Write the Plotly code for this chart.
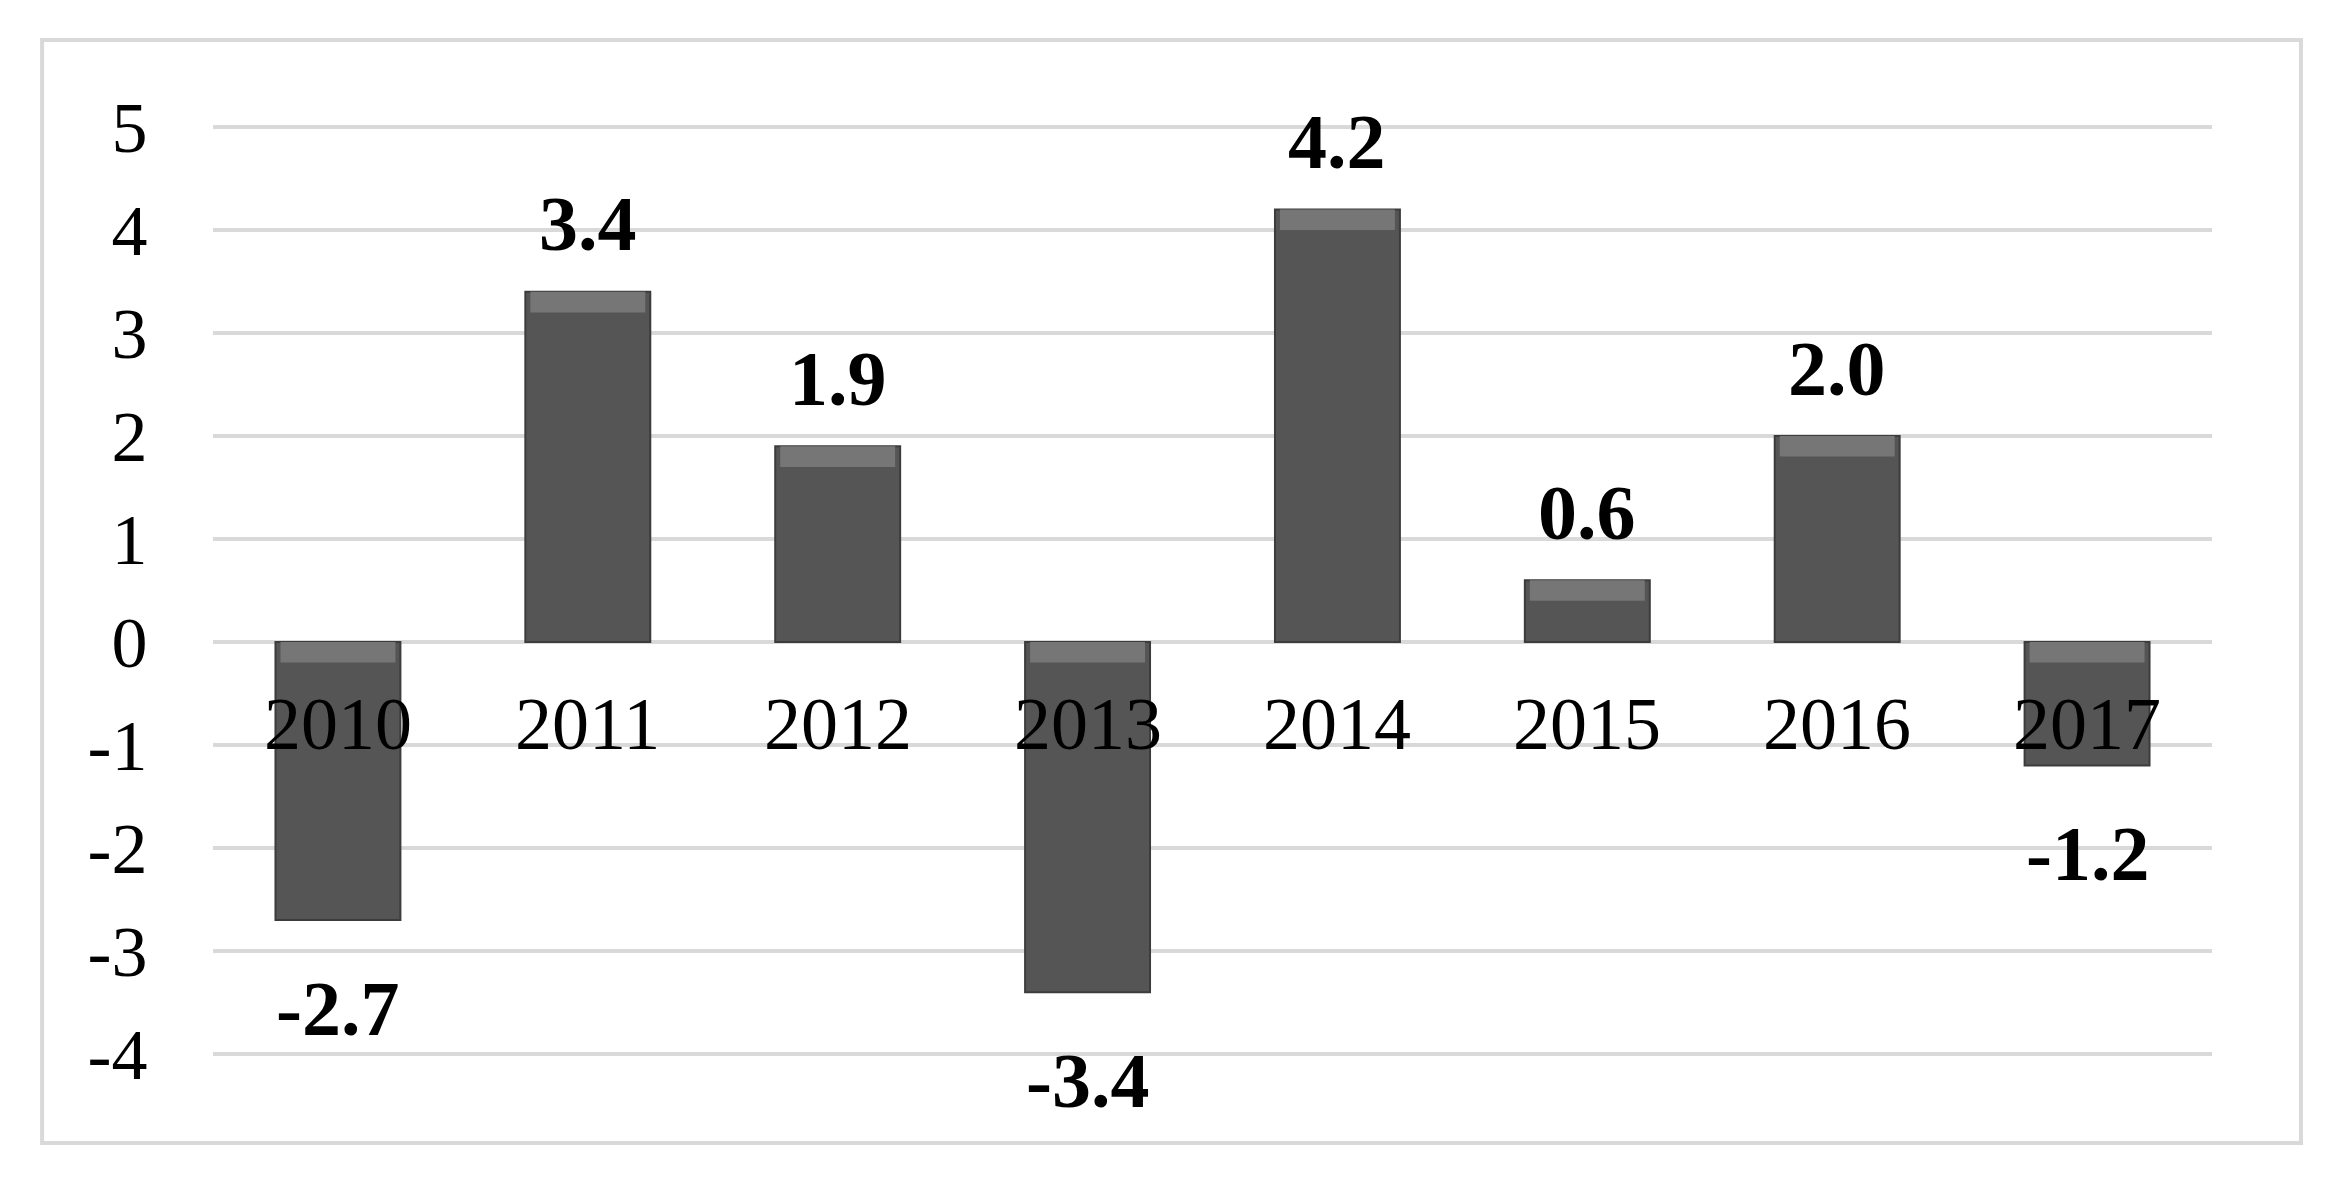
import plotly.graph_objects as go

years = ["2010", "2011", "2012", "2013", "2014", "2015", "2016", "2017"]
values = [-2.7, 3.4, 1.9, -3.4, 4.2, 0.6, 2.0, -1.2]
y_ticks = [5, 4, 3, 2, 1, 0, -1, -2, -3, -4]

Y_MIN, Y_MAX = -4.02, 5.02
FONT = "Liberation Serif"
BEVEL = 0.2  # depth of the light bevel strip along each bar's upper edge (axis units)

xs = list(range(len(years)))
fig = go.Figure()
fig.add_trace(go.Bar(
    x=xs, y=values, width=0.5,
    marker=dict(color="#555555", line=dict(color="#3c3c3c", width=2)),
    hoverinfo="skip",
))
# light bevel strip on the upper edge of every bar
bevel_h = [min(BEVEL, abs(v) / 3) for v in values]
bevel_base = [(v if v >= 0 else 0) - h for v, h in zip(values, bevel_h)]
fig.add_trace(go.Bar(
    x=xs, y=bevel_h, base=bevel_base, width=0.46,
    marker=dict(color="#767676", line=dict(width=0)),
    hoverinfo="skip",
))

# category labels sit just below the zero line
for i, yr in enumerate(years):
    fig.add_annotation(x=i, y=0, text=yr, showarrow=False,
                       yanchor="middle", yshift=-82,
                       font=dict(family=FONT, size=74, color="black"))

for i, v in enumerate(values):
    shift = 68 if v >= 0 else -88
    fig.add_annotation(x=i, y=v, text=f"<b>{v:.1f}</b>", showarrow=False,
                       yanchor="middle", yshift=shift,
                       font=dict(family=FONT, size=78, color="black"))

# outer chart border
fig.add_shape(type="rect", xref="paper", yref="paper",
              x0=-0.0855, x1=1.0445, y0=-0.0934, y1=1.0913,
              line=dict(color="#d9d9d9", width=4), fillcolor="rgba(0,0,0,0)", layer="below")

fig.update_layout(
    width=2330, height=1192,
    margin=dict(l=205, r=126, t=117, b=144),
    paper_bgcolor="white", plot_bgcolor="white",
    showlegend=False, barmode="overlay",
    font=dict(family=FONT, size=72, color="black"),
)
fig.update_xaxes(
    tickvals=xs, ticktext=years,
    range=[-0.5, len(years) - 0.5],
    showgrid=False, showline=False, zeroline=False, showticklabels=False,
)
fig.update_yaxes(
    range=[Y_MIN, Y_MAX], tickvals=y_ticks, ticktext=[str(t) for t in y_ticks],
    showgrid=True, gridcolor="#d9d9d9", gridwidth=4, zeroline=False, showline=False,
    ticks="outside", ticklen=50, tickcolor="rgba(0,0,0,0)",
    tickfont=dict(family=FONT, size=72, color="black"),
)

fig.write_html("out.html")
